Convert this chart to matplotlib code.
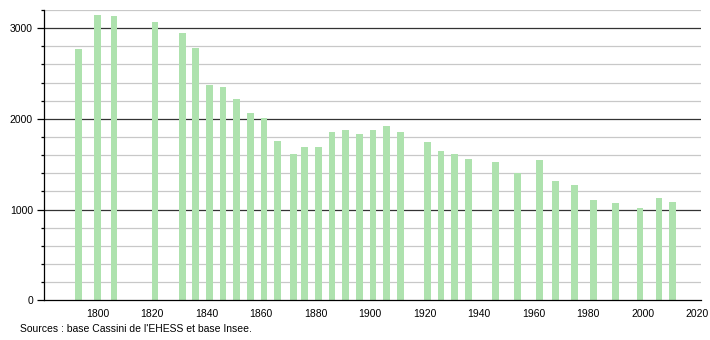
import matplotlib
matplotlib.use("Agg")
import matplotlib.pyplot as plt
import numpy as np
from matplotlib.ticker import MultipleLocator

plt.rcParams['font.family'] = ['Liberation Sans', 'DejaVu Sans']

years = [1793, 1800, 1806, 1821, 1831, 1836, 1841, 1846, 1851, 1856, 1861, 1866,
         1872, 1876, 1881, 1886, 1891, 1896, 1901, 1906, 1911, 1921, 1926, 1931,
         1936, 1946, 1954, 1962, 1968, 1975, 1982, 1990, 1999, 2006, 2011]
population = [2770, 3148, 3135, 3071, 2949, 2783, 2373, 2351, 2218, 2063, 2007, 1761,
              1609, 1687, 1687, 1853, 1875, 1831, 1875, 1919, 1853, 1742, 1642, 1609,
              1554, 1520, 1399, 1543, 1310, 1266, 1111, 1078, 1022, 1133, 1089]
xticks = [1800, 1820, 1840, 1860, 1880, 1900, 1920, 1940, 1960, 1980, 2000, 2020]
yticks = [0, 1000, 2000, 3000]
source = "Sources : base Cassini de l'EHESS et base Insee."

fig = plt.figure(figsize=(7.1, 3.4), dpi=100)
ax = fig.add_axes([44/710, 1 - 300.3/340, (701-44)/710, (300.3-10)/340])

ax.set_xlim(1780.3, 2021.4)
ax.set_ylim(0, 3200)

for v in range(200, 3201, 200):
    if v % 1000 == 0:
        ax.axhline(v, color='#333333', lw=0.9, zorder=1)
    else:
        ax.axhline(v, color='#c8c8c8', lw=0.9, zorder=1)

ax.bar(years, population, width=2.5, color='#aee2ae', zorder=2)

ax.set_yticks(yticks)
ax.yaxis.set_minor_locator(MultipleLocator(200))
ax.set_xticks(xticks)
ax.tick_params(axis='y', which='major', length=5, width=0.9, labelsize=7.5, pad=3, color='black')
ax.tick_params(axis='y', which='minor', length=2.5, width=0.9, color='black')
ax.tick_params(axis='x', which='major', length=0, labelsize=7.5, pad=6)

for s in ['top', 'right']:
    ax.spines[s].set_visible(False)
ax.spines['left'].set_linewidth(0.9)
ax.spines['bottom'].set_linewidth(0.9)

fig.text(20/710, 1 - 329/340, source, fontsize=7.5, va='center', ha='left')

fig.savefig('out.png', dpi=100)
